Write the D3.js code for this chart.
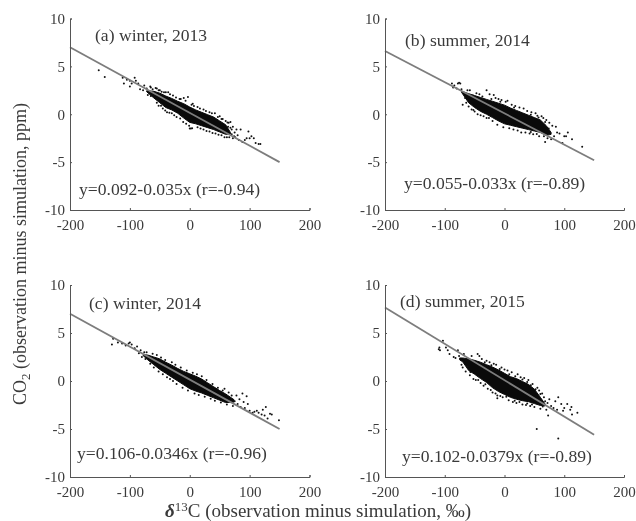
<!DOCTYPE html>
<html>
<head>
<meta charset="utf-8">
<script src="https://cdn.jsdelivr.net/npm/d3@7"></script>
<style>
  html, body { margin: 0; background: #fff; }
  svg { display: block; filter: blur(0.5px); }
  text { font-family: "Liberation Serif", serif; fill: #3a3a3a; }
</style>
</head>
<body>
<svg id="chart" width="636" height="521"></svg>
<script>
const xTicks = [-200, -100, 0, 100, 200]
const yTicks = [-10, -5, 0, 5, 10]
const titles = ['(a) winter, 2013', '(b) summer, 2014', '(c) winter, 2014', '(d) summer, 2015']
const equations = [
  'y=0.092-0.035x (r=-0.94)',
  'y=0.055-0.033x (r=-0.89)',
  'y=0.106-0.0346x (r=-0.96)',
  'y=0.102-0.0379x (r=-0.89)'
]

// fit line ends, [x, y] read at the line's two ends
const fitLines = [
  [[-200, 7.0], [150, -5.0]],
  [[-200, 6.6], [150, -4.8]],
  [[-200, 7.0], [150, -5.0]],
  [[-200, 7.65], [150, -5.6]]
]

// saturated middle of each cloud, the dots overlap to solid black here: [x, top, bottom]
const coreA = [[-72, 2.45, 2.35], [-60, 2.4, 1.7], [-50, 2.2, 1.2], [-40, 1.9, 0.7], [-30, 1.65, 0.45], [-20, 1.35, 0.1], [-10, 1.1, -0.4], [0, 0.75, -0.85], [10, 0.45, -1.0], [20, 0.2, -1.2], [30, -0.05, -1.4], [40, -0.3, -1.6], [50, -0.7, -1.85], [60, -1.1, -2.1], [68, -1.9, -2.05]]
const coreB = [[-72, 2.4, 2.3], [-60, 2.15, 1.2], [-50, 1.95, 0.7], [-40, 1.75, 0.3], [-30, 1.55, 0], [-20, 1.35, -0.35], [-10, 1.15, -0.7], [0, 0.95, -1.0], [10, 0.65, -1.15], [20, 0.4, -1.3], [30, 0.15, -1.45], [40, -0.1, -1.6], [50, -0.35, -1.75], [60, -0.6, -1.9], [70, -1.2, -2.2], [78, -1.9, -2.1]]
const coreC = [[-78, 2.75, 2.65], [-70, 2.7, 2.2], [-60, 2.5, 1.7], [-50, 2.3, 1.2], [-40, 1.95, 0.8], [-30, 1.65, 0.4], [-20, 1.3, 0], [-10, 1.0, -0.4], [0, 0.75, -0.8], [10, 0.5, -1.05], [20, 0.2, -1.25], [30, -0.2, -1.5], [40, -0.6, -1.75], [50, -1.0, -2.0], [60, -1.35, -2.25], [74, -1.95, -2.2]]
const coreD = [[-75, 2.4, 2.2], [-70, 2.4, 2.0], [-60, 2.3, 1.1], [-50, 2.15, 0.7], [-40, 1.95, 0.25], [-30, 1.7, -0.15], [-20, 1.45, -0.7], [-10, 1.15, -1.1], [0, 0.8, -1.4], [10, 0.45, -1.7], [20, 0.25, -1.9], [30, -0.05, -2.05], [40, -0.35, -2.15], [50, -0.85, -2.35], [60, -1.7, -2.55], [68, -2.4, -2.6]]

// separate dots around the edge of each cloud
const dotsA = [[-152, 4.6], [-142, 3.9], [-112, 3.8], [-110, 3.2], [-105, 3.6], [-100, 3.5], [-100, 2.9], [-97, 3.2], [-92, 3.8], [-90, 3.5], [-86, 3.2], [-83, 2.6], [-78, 2.5], [-76, 3.0], [-72, 2.7], [-70, 2.0], [-66, 2.9], [-62, 2.6], [-55, 2.7], [-50, 2.5], [-48, 0.9], [-45, 0.6], [-40, 2.3], [-36, 2.3], [-38, 0.2], [-30, 0.1], [-28, 1.95], [-22, -0.3], [-15, 1.6], [-10, 1.7], [-3, 1.8], [0, -1.5], [2, -1.5], [4, -1.45], [5, 1.1], [18, -1.5], [28, -1.75], [38, -1.95], [42, 0.1], [50, -0.2], [55, -0.5], [58, -2.4], [60, -0.7], [65, -0.9], [66, -2.4], [68, -0.8], [70, -1.6], [72, -2.5], [75, -1.9], [78, -1.6], [80, -2.2], [82, -2.7], [85, -1.6], [88, -2.9], [92, -2.7], [95, -2.5], [98, -1.8], [100, -2.5], [103, -2.3], [107, -2.5], [110, -3.0], [115, -3.1], [118, -3.1], [-65, 2.8], [-57, 2.75], [-52, 2.5], [-47, 2.35], [-43, 2.3], [-33, 2.1], [-23, 1.75], [-17, 1.6], [-7, 1.4], [3, 1.0], [7, 0.85], [13, 0.75], [17, 0.6], [23, 0.5], [27, 0.35], [33, 0.2], [37, 0.1], [47, -0.3], [53, -0.5], [63, -0.85], [-65, 1.9], [-55, 1.2], [-52, 0.9], [-41, 0.4], [-34, 0.15], [-26, -0.1], [-16, -0.45], [-11, -0.8], [-6, -1.0], [-1, -1.2], [13, -1.35], [23, -1.6], [33, -1.8], [43, -2.0], [48, -2.15], [53, -2.2], [62, -2.4], [74, -2.3], [64, -1.3], [68, -1.4], [72, -1.3], [70, -2.1], [76, -2.4]]
const dotsB = [[-88, 3.2], [-86, 2.8], [-84, 3.0], [-80, 2.7], [-78, 3.2], [-76, 3.3], [-74, 3.2], [-72, 2.6], [-70, 1.0], [-66, 1.7], [-64, 1.2], [-62, 2.5], [-60, 0.8], [-58, 2.5], [-55, 0.5], [-50, 0.3], [-47, 2.2], [-45, 0.0], [-42, 2.1], [-40, -0.1], [-35, -0.2], [-30, 2.5], [-30, -0.4], [-25, 2.1], [-20, -0.7], [-18, 2.0], [-12, -1.1], [-15, 1.7], [-10, 1.6], [-5, 1.5], [-2, -1.35], [2, 1.3], [5, 1.4], [8, -1.45], [12, 1.0], [15, -1.6], [18, 0.85], [22, -1.7], [25, 0.7], [28, -1.9], [32, 0.6], [35, -1.9], [38, 0.35], [42, -2.0], [45, 0.2], [48, -2.1], [52, 0.1], [55, -0.15], [58, -2.3], [62, -0.2], [65, -0.4], [68, -2.9], [70, -0.6], [72, -2.5], [75, -0.9], [78, -2.6], [80, -1.2], [83, -2.3], [86, -1.3], [88, -1.9], [92, -2.0], [97, -3.0], [100, -2.3], [103, -2.3], [106, -1.9], [113, -2.6], [130, -3.4], [-53, 1.95], [-37, 1.85], [-22, 1.6], [-7, 1.3], [16, 0.7], [44, -0.05], [57, -0.35], [68, -0.8], [74, -1.5], [66, -2.3], [54, -2.05], [44, -1.85], [-26, -0.4], [-52, 0.45]]
const dotsC = [[-130, 3.8], [-128, 4.4], [-120, 4.0], [-113, 3.9], [-107, 3.7], [-102, 3.9], [-100, 4.0], [-97, 3.8], [-92, 3.4], [-88, 3.6], [-85, 2.9], [-82, 3.2], [-80, 2.5], [-76, 3.0], [-74, 2.3], [-72, 3.0], [-66, 1.8], [-62, 2.85], [-60, 1.4], [-55, 2.7], [-52, 1.0], [-48, 2.45], [-45, 0.7], [-41, 2.2], [-38, 0.4], [-33, 0.2], [-30, 1.95], [-28, 0.0], [-24, 1.7], [-22, -0.3], [-15, 1.4], [-12, -0.7], [-5, 1.1], [-3, -1.0], [5, 0.85], [8, -1.3], [12, 0.7], [15, -1.45], [20, 0.5], [25, -1.65], [28, 0.1], [35, -1.85], [38, -0.3], [42, -2.05], [47, -0.7], [52, -2.25], [55, -1.0], [58, -0.8], [62, -2.45], [65, -1.2], [70, -1.5], [72, -2.6], [75, -2.1], [78, -1.5], [80, -2.4], [83, -1.9], [85, -2.7], [88, -1.3], [90, -2.2], [92, -2.8], [95, -1.6], [97, -2.4], [100, -3.1], [105, -3.3], [108, -3.2], [112, -3.1], [115, -3.3], [120, -3.5], [122, -3.0], [125, -3.6], [127, -2.7], [130, -3.9], [134, -3.4], [137, -3.5], [149, -4.1]]
const dotsD = [[-110, 3.3], [-109, 3.5], [-108, 3.2], [-103, 4.2], [-98, 3.5], [-95, 3.2], [-92, 2.8], [-85, 2.5], [-82, 2.4], [-78, 3.2], [-76, 2.6], [-72, 1.7], [-70, 1.4], [-68, 2.8], [-65, 1.0], [-62, 1.5], [-58, 0.6], [-55, 2.6], [-52, 0.2], [-48, 0.1], [-45, 2.8], [-42, 2.6], [-40, -0.2], [-38, 2.3], [-35, -0.5], [-30, 2.1], [-28, -0.8], [-25, 1.95], [-20, -1.2], [-18, 1.8], [-14, 1.7], [-12, -1.5], [-12, -1.8], [-5, 1.4], [-3, -1.7], [0, 1.2], [5, 1.1], [7, -2.0], [12, 0.9], [14, -2.2], [20, -2.3], [22, 0.7], [27, 0.4], [30, -2.45], [33, 0.3], [36, -2.5], [40, 0.1], [43, -2.6], [47, -0.3], [50, -2.7], [55, -0.7], [58, -1.0], [60, -2.9], [63, -1.3], [66, -1.7], [70, -3.0], [73, -3.6], [75, -1.9], [78, -2.6], [82, -2.8], [85, -2.1], [88, -3.0], [90, -1.7], [95, -2.4], [98, -3.1], [100, -2.8], [105, -2.4], [110, -3.0], [112, -2.7], [113, -3.5], [122, -3.3], [54, -5.0], [90, -6.0], [-57, 0.95], [-44, 0.1], [-32, -0.35], [-23, -0.95], [-15, -1.3], [-7, -1.55], [3, -1.65], [17, -2.05], [25, -2.2], [38, -2.35], [46, -2.45], [64, -2.65], [-33, 1.95], [-22, 1.65], [-8, 1.25], [8, 0.7], [18, 0.5], [30, 0.15], [38, -0.1], [44, -0.45], [52, -0.85], [60, -1.35], [68, -2.1], [72, -2.3]]

const cores = [coreA, coreB, coreC, coreD]
const dotSets = [dotsA, dotsB, dotsC, dotsD]

const panelBoxes = [
  { left: 70, right: 309.5, top: 18.5, bottom: 210 },
  { left: 385, right: 624, top: 18.5, bottom: 210 },
  { left: 70, right: 309.5, top: 285, bottom: 477 },
  { left: 385, right: 624, top: 285, bottom: 477 }
]
const titleAt = [[95, 35], [405, 40], [89, 303], [400, 301]]
const equationAt = [[79, 189], [404, 183], [77, 453], [402, 456]]

const svg = d3.select('#chart')

function drawPanel (i) {
  const box = panelBoxes[i]
  const x = d3.scaleLinear().domain([-200, 200]).range([box.left, box.right])
  const y = d3.scaleLinear().domain([-10, 10]).range([box.bottom, box.top])
  const g = svg.append('g')

  const area = d3.area()
    .x(d => x(d[0]))
    .y0(d => y(d[2]))
    .y1(d => y(d[1]))
  g.append('path')
    .attr('d', area(cores[i]))
    .attr('fill', '#0a0a0a')
    .attr('stroke', '#0a0a0a')
    .attr('stroke-width', 1)

  g.selectAll('circle')
    .data(dotSets[i])
    .enter()
    .append('circle')
    .attr('cx', d => x(d[0]))
    .attr('cy', d => y(d[1]))
    .attr('r', 1)
    .attr('fill', '#111')

  g.append('path')
    .attr('d', d3.line().x(d => x(d[0])).y(d => y(d[1]))(fitLines[i]))
    .attr('stroke', '#7d7d7d')
    .attr('stroke-width', 1.8)
    .attr('fill', 'none')

  const xAxis = g.append('g')
    .attr('transform', `translate(0, ${box.bottom})`)
    .call(d3.axisBottom(x).tickValues(xTicks).tickSize(-2).tickPadding(9).tickFormat(d => String(d)))
  const yAxis = g.append('g')
    .attr('transform', `translate(${box.left}, 0)`)
    .call(d3.axisLeft(y).tickValues(yTicks).tickSize(-2).tickPadding(5).tickFormat(d => String(d)))

  ;[xAxis, yAxis].forEach(axis => {
    axis.selectAll('.domain').attr('stroke', '#555').attr('stroke-width', 1)
    axis.selectAll('line').attr('stroke', '#555')
    axis.selectAll('text')
      .attr('fill', '#3a3a3a')
      .style('font-family', '"Liberation Serif", serif')
      .style('font-size', '15px')
  })

  g.append('text')
    .attr('x', titleAt[i][0])
    .attr('y', titleAt[i][1])
    .attr('dy', '0.32em')
    .style('font-size', '17.6px')
    .text(titles[i])

  g.append('text')
    .attr('x', equationAt[i][0])
    .attr('y', equationAt[i][1])
    .attr('dy', '0.32em')
    .style('font-size', '17.6px')
    .text(equations[i])
}

d3.range(4).forEach(drawPanel)

// y title
const yTitle = svg.append('text')
  .attr('transform', 'translate(26, 405) rotate(-90)')
  .style('font-size', '18px')
yTitle.append('tspan').text('CO')
yTitle.append('tspan').attr('dy', 4).style('font-size', '13px').text('2')
yTitle.append('tspan').attr('dy', -4).text(' (observation minus simulation, ppm)')

// x title
const xTitle = svg.append('text')
  .attr('x', 165)
  .attr('y', 517)
  .style('font-size', '19px')
xTitle.append('tspan').style('font-weight', 'bold').style('font-style', 'italic').text('δ')
xTitle.append('tspan').attr('dy', -6).style('font-size', '13px').text('13')
xTitle.append('tspan').attr('dy', 6).text('C (observation minus simulation, ‰)')
</script>
</body>
</html>
